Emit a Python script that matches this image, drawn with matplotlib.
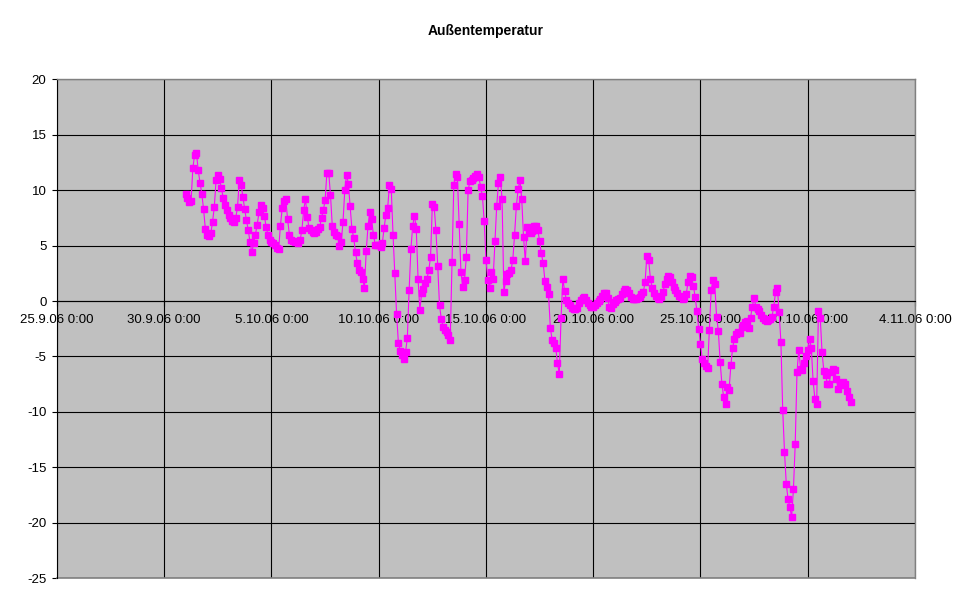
import numpy as np
import matplotlib
matplotlib.use("Agg")
import matplotlib.pyplot as plt
from datetime import datetime, timedelta

# Aussentemperatur, alle 2 Stunden ab 1.10.06 0:00
start = datetime(2006, 10, 1, 0, 0)
step_h = 2
temp = [
    9.7, 9.3, 8.9, 9.0, 12.0, 13.2, 13.4, 11.8, 10.7, 9.7, 8.3, 6.5,            # 1.10
    6.0, 5.9, 6.1, 7.1, 8.5, 10.9, 11.4, 11.0, 10.2, 9.3, 8.7, 8.2,             # 2.10
    7.8, 7.5, 7.2, 7.1, 7.5, 8.5, 10.9, 10.5, 9.4, 8.3, 7.3, 6.4,               # 3.10
    5.3, 4.4, 5.2, 6.0, 6.9, 8.0, 8.7, 8.4, 7.7, 6.7, 6.0, 5.5,                 # 4.10
    5.3, 5.2, 5.1, 4.8, 4.7, 6.8, 8.4, 9.0, 9.2, 7.4, 6.0, 5.5,                 # 5.10
    5.4, 5.3, 5.3, 5.2, 5.5, 6.4, 8.2, 9.2, 7.6, 6.6, 6.4, 6.2,                 # 6.10
    6.1, 6.2, 6.5, 6.7, 7.5, 8.2, 9.1, 11.6, 11.6, 9.6, 6.8, 6.2,               # 7.10
    6.0, 5.9, 5.0, 5.3, 7.1, 10.0, 11.4, 10.6, 8.6, 6.5, 5.7, 4.4,              # 8.10
    3.4, 2.8, 2.6, 2.0, 1.2, 4.5, 6.8, 8.0, 7.4, 6.0, 5.1, 5.1,                 # 9.10
    5.1, 4.9, 5.2, 6.6, 7.8, 8.4, 10.5, 10.1, 6.0, 2.5, -1.2, -3.8,             # 10.10
    -4.5, -4.9, -5.2, -4.6, -3.3, 1.0, 4.7, 6.8, 7.7, 6.5, 2.0, -0.8,           # 11.10
    0.7, 1.1, 1.6, 2.0, 2.8, 4.0, 8.8, 8.5, 6.4, 3.2, -0.4, -1.6,               # 12.10
    -2.3, -2.6, -2.8, -3.1, -3.5, 3.5, 10.5, 11.5, 11.2, 7.0, 2.6, 1.3,         # 13.10
    1.9, 4.0, 10.0, 10.8, 10.9, 11.1, 11.3, 11.5, 11.2, 10.3, 9.5, 7.2,         # 14.10
    3.7, 1.9, 1.2, 2.6, 2.0, 5.4, 8.6, 10.7, 11.2, 9.2, 0.8, 1.8,               # 15.10
    2.4, 2.5, 2.8, 3.7, 6.0, 8.6, 10.1, 10.9, 9.2, 5.8, 3.6, 6.7,               # 16.10
    6.4, 6.1, 6.3, 6.8, 6.8, 6.4, 5.4, 4.3, 3.4, 1.8, 1.3, 0.6,                 # 17.10
    -2.4, -3.5, -3.8, -4.2, -5.6, -6.6, -1.5, 2.0, 0.9, 0.1, -0.2, -0.4,        # 18.10
    -0.6, -0.7, -0.7, -0.6, -0.2, 0.1, 0.3, 0.4, 0.1, -0.2, -0.4, -0.5,         # 19.10
    -0.5, -0.4, -0.2, 0.0, 0.2, 0.5, 0.7, 0.7, 0.3, -0.5, -0.6, -0.3,           # 20.10
    -0.1, 0.1, 0.2, 0.3, 0.6, 0.9, 1.1, 1.0, 0.7, 0.4, 0.2, 0.2,                # 21.10
    0.2, 0.3, 0.4, 0.6, 0.8, 1.7, 4.1, 3.7, 2.0, 1.2, 0.7, 0.5,                 # 22.10
    0.3, 0.2, 0.4, 0.8, 1.5, 2.0, 2.3, 2.2, 1.7, 1.3, 1.0, 0.7,                 # 23.10
    0.5, 0.4, 0.2, 0.3, 0.6, 1.7, 2.3, 2.2, 1.4, 0.4, -0.9, -2.5,               # 24.10
    -3.9, -5.2, -5.6, -5.9, -6.0, -2.6, 1.0, 1.9, 1.5, -1.4, -2.7, -5.5,        # 25.10
    -7.5, -8.7, -9.3, -7.8, -8.0, -5.8, -4.2, -3.4, -3.0, -2.8, -2.9, -2.3,     # 26.10
    -2.2, -1.9, -1.8, -2.4, -1.5, -0.5, 0.3, -0.5, -0.7, -0.9, -1.3, -1.5,      # 27.10
    -1.7, -1.8, -1.7, -1.6, -1.4, -0.5, 0.8, 1.2, -1.0, -3.7, -9.8, -13.6,      # 28.10
    -16.5, -17.9, -18.6, -19.5, -17.0, -12.9, -6.4, -4.4, -6.1, -6.2, -5.6, -5.0,  # 29.10
    -4.4, -3.4, -4.2, -7.2, -8.8, -9.3, -0.9, -1.5, -4.6, -6.3, -6.7, -7.5,     # 30.10
    -7.5, -6.4, -6.1, -6.2, -7.0, -7.9, -7.6, -7.4, -7.3, -7.5, -8.1, -8.7,     # 31.10
    -9.1,                                                                       # 1.11
]
times = [start + timedelta(hours=step_h * i) for i in range(len(temp))]

x_min = datetime(2006, 9, 25)
x_max = datetime(2006, 11, 4)
x_ticks = [datetime(2006, 9, 25), datetime(2006, 9, 30), datetime(2006, 10, 5),
           datetime(2006, 10, 10), datetime(2006, 10, 15), datetime(2006, 10, 20),
           datetime(2006, 10, 25), datetime(2006, 10, 30), datetime(2006, 11, 4)]
y_ticks = [-25, -20, -15, -10, -5, 0, 5, 10, 15, 20]
title = "Außentemperatur"

plt.rcParams['font.family'] = ['Liberation Sans', 'DejaVu Sans']
plt.rcParams['axes.unicode_minus'] = False

fig = plt.figure(figsize=(9.71, 6.04), dpi=100)
ax = fig.add_axes([0.0587, 0.0430, 0.8836, 0.8254])
ax.set_facecolor('#C0C0C0')

ax.plot(times, temp, color='#FF00FF', lw=0.8, marker='s', markersize=5,
        markeredgecolor='#FF00FF', markerfacecolor='#FF00FF', zorder=3)

ax.set_xlim(x_min, x_max)
ax.set_ylim(-25, 20)
ax.set_yticks(y_ticks)
ax.set_xticks(x_ticks)
ax.set_xticklabels([f"{d.day}.{d.month}.{d:%y} 0:00" for d in x_ticks])

ax.grid(True, color='black', lw=0.8, zorder=1)
ax.set_axisbelow(True)

for s in ['top', 'right']:
    ax.spines[s].set_color('#808080')
    ax.spines[s].set_linewidth(1.0)
ax.spines['left'].set_color('black')
ax.spines['left'].set_linewidth(0.8)
ax.spines['bottom'].set_position(('data', 0))
ax.spines['bottom'].set_color('black')
ax.spines['bottom'].set_linewidth(0.8)
ax.axhline(-25, color='#808080', lw=1.2, clip_on=False)

ax.tick_params(axis='y', direction='out', length=3.6, width=0.8, pad=4, labelsize=9.5, colors='black')
ax.tick_params(axis='x', direction='out', length=3.6, width=0.8, pad=6, labelsize=9.5, colors='black')

fig.text(0.5, 1 - 31.5 / 604, title, ha='center', va='center', fontsize=10, fontweight='bold')

fig.savefig('out.png', dpi=100)
